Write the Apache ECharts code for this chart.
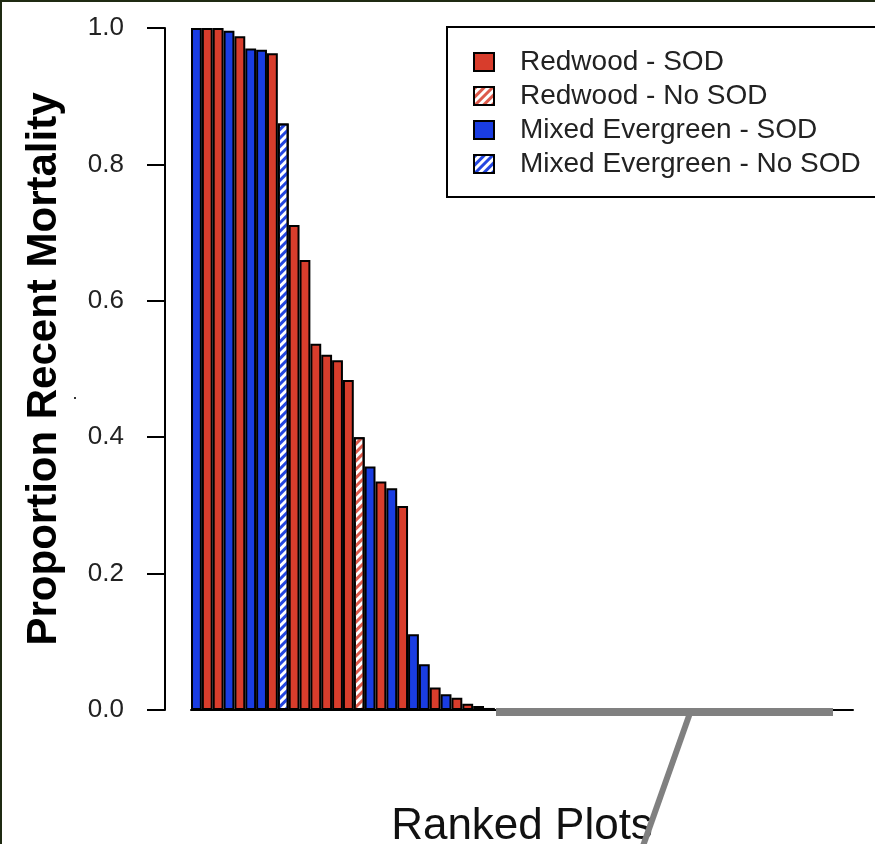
<!DOCTYPE html>
<html>
<head>
<meta charset="utf-8">
<script src="https://cdn.jsdelivr.net/npm/echarts@6/dist/echarts.min.js"></script>
<style>
html,body{margin:0;padding:0;background:#fff;}
#chart{position:absolute;left:0;top:0;width:875px;height:844px;}
#frame{position:absolute;left:0;top:0;width:875px;height:844px;box-sizing:border-box;border-top:2px solid #1f2a12;border-left:2px solid #1f2a12;pointer-events:none;}
</style>
</head>
<body>
<div id="chart"></div>
<div id="frame"></div>
<script>
// ---- data ----
const ranks = Array.from({length: 61}, (_, i) => String(i + 1));
const mortality = [
  1.000, 1.000, 1.000, 0.996, 0.988, 0.970, 0.968, 0.963, 0.860, 0.711,
  0.660, 0.537, 0.521, 0.513, 0.484, 0.400, 0.357, 0.335, 0.325, 0.299,
  0.111, 0.067, 0.033, 0.023, 0.018, 0.009, 0.006, 0.003, 0, 0,
  0, 0, 0, 0, 0, 0, 0, 0, 0, 0,
  0, 0, 0, 0, 0, 0, 0, 0, 0, 0,
  0, 0, 0, 0, 0, 0, 0, 0, 0, 0,
  0
];
// R = Redwood SOD, r = Redwood No SOD, B = Mixed Evergreen SOD, b = Mixed Evergreen No SOD
const forestType = [
  'B','R','R','B','R','B','B','R','b','R',
  'R','R','R','R','R','r','B','R','B','R',
  'B','B','R','B','R','R','R','B','R','B',
  'r','R','b','B','R','R','B','r','R','B',
  'R','b','R','B','R','r','B','R','R','B',
  'b','R','B','R','r','B','R','B','R','B',
  'R'
];
const seriesCodes = ['R', 'r', 'B', 'b'];
const seriesNames = ['Redwood - SOD', 'Redwood - No SOD', 'Mixed Evergreen - SOD', 'Mixed Evergreen - No SOD'];
const yTickValues = [0, 0.2, 0.4, 0.6, 0.8, 1.0];

// ---- styles ----
const RED = '#d83d2c';
const BLUE = '#1a3de2';
function hatch(color) {
  return {symbol: 'rect', symbolSize: 1, dashArrayX: [1, 0], dashArrayY: [2.5, 2.5], rotation: -Math.PI / 4, color: color};
}
const styles = {
  'R': {color: RED, borderColor: '#000', borderWidth: 2},
  'r': {color: '#ffffff', borderColor: '#000', borderWidth: 2, decal: hatch('#dd5a4b')},
  'B': {color: BLUE, borderColor: '#000', borderWidth: 2},
  'b': {color: '#ffffff', borderColor: '#000', borderWidth: 2, decal: hatch('#2446e0')}
};

const FONT = 'Liberation Sans, Arial, Helvetica, sans-serif';

const series = seriesCodes.map((code, k) => ({
  name: seriesNames[k],
  type: 'bar',
  barGap: '-100%',
  barCategoryGap: '0%',
  itemStyle: styles[code],
  emphasis: {disabled: true},
  data: mortality.map((v, i) => forestType[i] === code ? v : null)
}));

const chart = echarts.init(document.getElementById('chart'), null, {renderer: 'canvas'});
chart.setOption({
  animation: false,
  backgroundColor: '#ffffff',
  grid: {left: 191, right: 22, top: 28, bottom: 134, containLabel: false, outerBoundsMode: 'none'},
  legend: {
    orient: 'vertical',
    left: 447,
    top: 27,
    padding: [18, 30, 16, 26],
    icon: 'rect',
    itemWidth: 20,
    itemHeight: 18,
    itemGap: 0,
    borderColor: '#000',
    borderWidth: 2,
    backgroundColor: '#fff',
    data: seriesNames,
    textStyle: {fontFamily: FONT, fontSize: 28, lineHeight: 34, color: '#222', padding: [0, 0, 0, 21]}
  },
  xAxis: {
    type: 'category',
    data: ranks,
    axisLine: {show: true, lineStyle: {color: '#000', width: 2}},
    axisTick: {show: false},
    axisLabel: {show: false},
    splitLine: {show: false},
    name: 'Ranked Plots',
    nameLocation: 'middle',
    nameGap: 95,
    nameTextStyle: {fontFamily: FONT, fontSize: 44, color: '#111'}
  },
  yAxis: {
    type: 'value',
    min: 0,
    max: 1,
    interval: 0.2,
    offset: 26,
    axisLine: {show: true, lineStyle: {color: '#000', width: 2}},
    axisTick: {show: true, length: 18, lineStyle: {color: '#000', width: 2}},
    axisLabel: {fontFamily: FONT, fontSize: 26, color: '#222', margin: 41,
      formatter: v => yTickValues.includes(+v.toFixed(1)) ? v.toFixed(1) : ''},
    splitLine: {show: false},
    name: 'Proportion Recent Mortality',
    nameLocation: 'middle',
    nameRotate: 90,
    nameGap: 100,
    nameTextStyle: {fontFamily: FONT, fontSize: 42, fontWeight: 'bold', color: '#000'}
  },
  graphic: [
    {type: 'line', silent: true, z: 100, shape: {x1: 496, y1: 712, x2: 833, y2: 712}, style: {stroke: '#808080', lineWidth: 8}},
    {type: 'line', silent: true, z: 100, shape: {x1: 690, y1: 713, x2: 643, y2: 846}, style: {stroke: '#808080', lineWidth: 6}},
    {type: 'rect', silent: true, shape: {x: 74, y: 397, width: 2, height: 2}, style: {fill: '#333'}}
  ],
  series: series
});
</script>
</body>
</html>
